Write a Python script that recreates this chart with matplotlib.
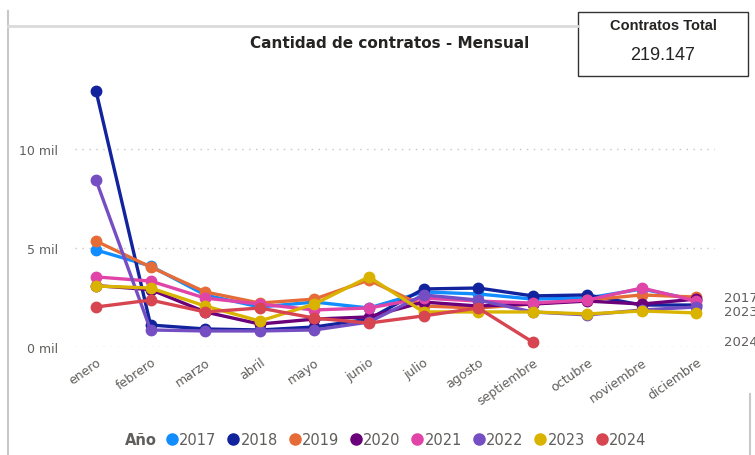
"""Cantidad de contratos - Mensual: monthly contract counts per year."""

import matplotlib.pyplot as plt
from matplotlib.lines import Line2D
from matplotlib.patches import Rectangle

MONTHS = ["enero", "febrero", "marzo", "abril", "mayo", "junio", "julio",
          "agosto", "septiembre", "octubre", "noviembre", "diciembre"]

YEARS = ["2017", "2018", "2019", "2020", "2021", "2022", "2023", "2024"]

COLORS = ["#118DFF", "#12239E", "#E66C37", "#6B007B",
          "#E044A7", "#744EC2", "#D9B300", "#D64550"]

c2017 = [4900, 4090, 2630, 2020, 2270, 1970, 2780, 2680, 2420, 2470, 2930, 2370]
c2018 = [12930, 1110, 910, 860, 1010, 1410, 2930, 2980, 2580, 2630, 2120, 2120]
c2019 = [5350, 4040, 2780, 2220, 2420, 3380, 2070, 1970, 2170, 2370, 2630, 2520]
c2020 = [3100, 2900, 1770, 1160, 1410, 1520, 2270, 2070, 2170, 2320, 2170, 2420]
c2021 = [3540, 3330, 2470, 2170, 1870, 1970, 2470, 2320, 2220, 2370, 2980, 2320]
c2022 = [8430, 860, 810, 810, 860, 1260, 2630, 2370, 1770, 1620, 1870, 2020]
c2023 = [3080, 2980, 2070, 1310, 2170, 3540, 1770, 1770, 1770, 1670, 1820, 1720]
c2024 = [2020, 2370, 1770, 1970, 1460, 1210, 1570, 1970, 250]

SERIES = [c2017, c2018, c2019, c2020, c2021, c2022, c2023, c2024]

TOTAL = "219.147"
END_LABELS = ["2017", "2023", "2024"]

GRAY = "#605E5C"

fig = plt.figure(figsize=(7.55, 4.56), dpi=100)
W, H = 755, 456

# plot area in pixel terms
left_px, right_px, top_px, bottom_px = 75, 715, 70, 348
ax = fig.add_axes([left_px / W, 1 - bottom_px / H,
                   (right_px - left_px) / W, (bottom_px - top_px) / H])

for i, (year, vals) in enumerate(zip(YEARS, SERIES)):
    ax.plot(range(len(vals)), vals, color=COLORS[i], lw=2.4, marker="o",
            ms=7.5, zorder=3 + i, clip_on=False, solid_capstyle="round")

ax.set_xlim(-0.385, 11.34)
ax.set_ylim(0, 14040)
ax.set_yticks([0, 5000, 10000])
ax.set_yticklabels(["0 mil", "5 mil", "10 mil"])
ax.set_xticks(range(len(MONTHS)))
ax.set_xticklabels(MONTHS, rotation=35, ha="right", rotation_mode="anchor")
ax.tick_params(axis="both", length=0, colors=GRAY, labelsize=9)
ax.tick_params(axis="x", pad=6)
ax.tick_params(axis="y", pad=12)
ax.grid(axis="y", color="#C8C6C4", linestyle=(0, (1, 4)), lw=1)
for s in ax.spines.values():
    s.set_visible(False)

# end-of-line labels on the right (cut by the figure edge, as in the report)
for lbl, ypx in zip(END_LABELS, [298, 313, 343]):
    fig.text(724 / W, 1 - ypx / H, lbl, color=GRAY, fontsize=9.5, va="center")

# title
fig.text(390 / W, 1 - 44 / H, "Cantidad de contratos - Mensual", ha="center",
         va="center", fontsize=11, fontweight="bold", color="#252423")

# visual frame lines
fig.add_artist(Line2D([8 / W, 8 / W], [0, 1 - 12 / H], color="#C8C8C8", lw=1.5))
fig.add_artist(Line2D([8 / W, 578 / W], [1 - 27 / H, 1 - 27 / H], color="#DADADA", lw=2))
fig.add_artist(Line2D([750 / W, 750 / W], [0, 1 - 395 / H], color="#C8C8C8", lw=1.5))

# card with total
fig.add_artist(Rectangle((578 / W, 1 - 77 / H), 170 / W, 64 / H,
                         transform=fig.transFigure, facecolor="white",
                         edgecolor="#333333", lw=1))
fig.text(663 / W, 1 - 26 / H, "Contratos Total", ha="center", va="center",
         fontsize=10.5, fontweight="bold", color="#252423", family="Liberation Sans")
fig.text(663 / W, 1 - 55 / H, TOTAL, ha="center", va="center",
         fontsize=13, color="#252423", family="Liberation Sans")

# legend
fig.text(125 / W, 1 - 441 / H, "Año", ha="left", va="center", fontsize=10.5,
         fontweight="bold", color=GRAY)
handles = [Line2D([], [], ls="", marker="o", ms=8, color=c) for c in COLORS]
fig.legend(handles, YEARS, loc="center left", bbox_to_anchor=(163 / W, 1 - 441 / H),
           ncol=len(YEARS), frameon=False, handletextpad=-0.1, columnspacing=0.55,
           handlelength=1.2, fontsize=10.5, labelcolor=GRAY, borderaxespad=0,
           borderpad=0)

fig.savefig("out.png", dpi=100)
